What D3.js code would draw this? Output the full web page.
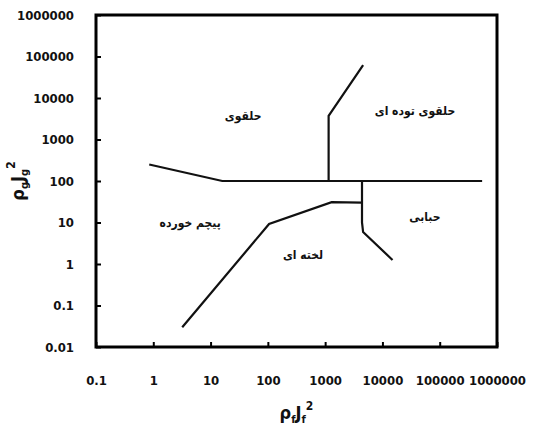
<!DOCTYPE html>
<html>
<head>
<meta charset="utf-8">
<script src="https://cdn.jsdelivr.net/npm/d3@7"></script>
<style>
  body { margin: 0; background: #fff; }
  text { font-family: "Liberation Sans Narrow", "DejaVu Sans Condensed", "Liberation Sans", sans-serif; font-weight: bold; fill: #111; }
</style>
</head>
<body>
<div id="container"></div>
<script>
/* CONSTANTS */
const width = 552,
      height = 434,
      margin = {top: 15, bottom: 87, left: 96, right: 55};

/* DATA */
const xTicks = [0.1, 1, 10, 100, 1000, 10000, 100000, 1000000];
const yTicks = [0.01, 0.1, 1, 10, 100, 1000, 10000, 100000, 1000000];

// regime boundaries [x, y]
const lineA = [[0.85, 250], [16, 100], [550000, 100]];
const lineB = [[1150, 100], [1150, 3700], [4600, 62000]];
const lineC = [[3.2, 0.03], [105, 9.2], [1300, 31], [4400, 30]];
const lineD = [[4400, 100], [4400, 10], [4600, 5.9], [15000, 1.25]];
const boundaries = [lineA, lineB, lineC, lineD];

// regime names
const regimeNames = ["حلقوی", "حلقوی توده ای", "پیچم خورده", "لخته ای", "حبابی"];
const regimeX = [37, 37000, 4.4, 410, 55000];
const regimeY = [3700, 4900, 10, 1.7, 14];

/* SCALES */
const xScale = d3.scaleLog()
  .domain([0.1, 1000000])
  .range([margin.left, width - margin.right]);

const yScale = d3.scaleLog()
  .domain([0.01, 1000000])
  .range([height - margin.bottom, margin.top]);

const fmt = d => String(d);

/* SVG */
const svg = d3.select("#container")
  .append("svg")
  .attr("width", width)
  .attr("height", height);

// axes with inward ticks
const xAxis = d3.axisBottom(xScale).tickValues(xTicks).tickSize(-5).tickPadding(29).tickFormat(fmt);
const yAxis = d3.axisLeft(yScale).tickValues(yTicks).tickSize(-5).tickPadding(22).tickFormat(fmt);

const gx = svg.append("g")
  .attr("transform", `translate(0, ${height - margin.bottom})`)
  .call(xAxis);
const gy = svg.append("g")
  .attr("transform", `translate(${margin.left}, 0)`)
  .call(yAxis);

[gx, gy].forEach(g => {
  g.select(".domain").remove();
  g.selectAll(".tick line").attr("stroke", "#000").attr("stroke-width", 2);
  g.selectAll(".tick text")
    .attr("font-size", 13)
    .attr("font-family", "'DejaVu Sans Condensed', sans-serif")
    .attr("fill", "#111");
});

// frame
svg.append("rect")
  .attr("x", margin.left)
  .attr("y", margin.top)
  .attr("width", width - margin.left - margin.right)
  .attr("height", height - margin.top - margin.bottom)
  .attr("fill", "none")
  .attr("stroke", "#000")
  .attr("stroke-width", 3);

// boundary lines
const line = d3.line()
  .x(d => xScale(d[0]))
  .y(d => yScale(d[1]));

svg.selectAll("path.boundary")
  .data(boundaries)
  .join("path")
  .attr("class", "boundary")
  .attr("d", line)
  .attr("fill", "none")
  .attr("stroke", "#111")
  .attr("stroke-width", 2.2);

// regime labels
svg.selectAll("text.regime")
  .data(regimeNames)
  .join("text")
  .attr("class", "regime")
  .attr("x", (d, i) => xScale(regimeX[i]))
  .attr("y", (d, i) => yScale(regimeY[i]))
  .attr("dy", "0.35em")
  .attr("text-anchor", "middle")
  .attr("font-size", 12)
  .attr("font-family", "'DejaVu Sans', sans-serif")
  .text(d => d);

// axis titles
const xTitle = svg.append("text")
  .attr("x", (margin.left + width - margin.right) / 2)
  .attr("y", 419)
  .attr("text-anchor", "middle")
  .attr("font-size", 18);
xTitle.append("tspan").text("ρ");
xTitle.append("tspan").attr("font-size", 11).attr("dy", 4).text("f");
xTitle.append("tspan").attr("dy", -4).text("J");
xTitle.append("tspan").attr("font-size", 11).attr("dy", 4).text("f");
xTitle.append("tspan").attr("font-size", 12).attr("dy", -13).text("2");

const yTitle = svg.append("text")
  .attr("transform", `translate(24, ${(margin.top + height - margin.bottom) / 2}) rotate(-90)`)
  .attr("text-anchor", "middle")
  .attr("font-size", 18);
yTitle.append("tspan").text("ρ");
yTitle.append("tspan").attr("font-size", 11).attr("dy", 4).text("g");
yTitle.append("tspan").attr("dy", -4).text("J");
yTitle.append("tspan").attr("font-size", 11).attr("dy", 4).text("g");
yTitle.append("tspan").attr("font-size", 12).attr("dy", -13).text("2");
</script>
</body>
</html>
